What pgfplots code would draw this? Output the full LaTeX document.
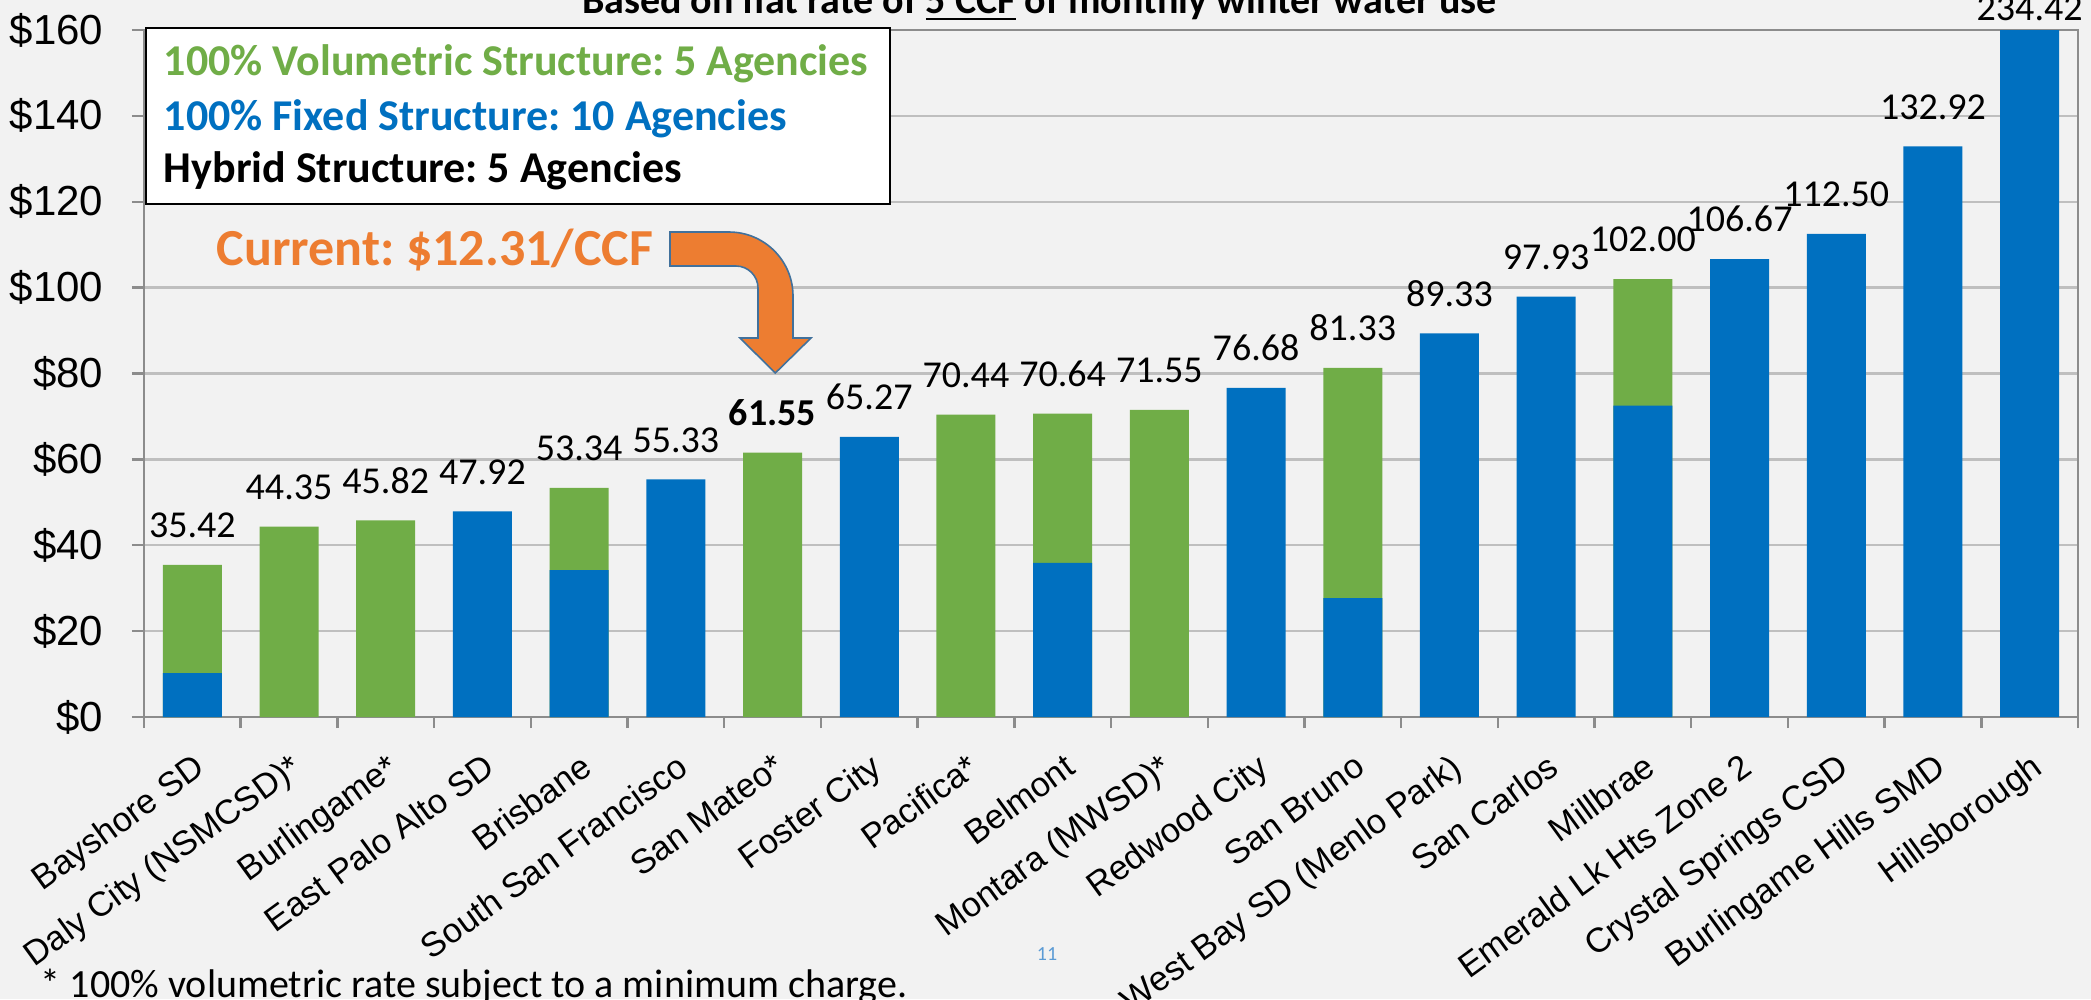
\documentclass[border=0pt]{standalone}
\usepackage{fontspec}
\setmainfont{Carlito}
\newfontfamily\arialf{Liberation Sans}
\usepackage{pgfplots}
\pgfplotsset{compat=1.18}
\definecolor{bgc}{HTML}{F2F2F2}
\definecolor{grn}{HTML}{70AD47}
\definecolor{blu}{HTML}{0070C0}
\definecolor{org}{HTML}{ED7D31}
\definecolor{arrowedge}{HTML}{41719C}
\definecolor{gridc}{HTML}{BFBFBF}
\definecolor{axc}{HTML}{8C8C8C}
\definecolor{pgnum}{HTML}{5B9BD5}
\frenchspacing
\begin{document}
\begin{tikzpicture}
\begin{scope}[x=0.25pt,y=-0.25pt]
\fill[bgc] (0,0) rectangle (2091,999);
\end{scope}
\begin{axis}[
  at={(36pt,-179.25pt)}, anchor=south west,
  scale only axis, width=483.5pt, height=171.75pt,
  ybar, bar width=14.75pt, bar shift=0pt,
  xmin=-0.5, xmax=19.5, ymin=0, ymax=160,
  enlargelimits=false,
  clip mode=individual,
  axis line style={axc, line width=0.6pt},
  xtick={0,...,19},
  xticklabels={Bayshore SD,Daly City (NSMCSD)*,Burlingame*,East Palo Alto SD,Brisbane,South San Francisco,San Mateo*,Foster City,Pacifica*,Belmont,Montara (MWSD)*,Redwood City,San Bruno,West Bay SD (Menlo Park),San Carlos,Millbrae,Emerald Lk Hts Zone 2,Crystal Springs CSD,Burlingame Hills SMD,Hillsborough},
  minor xtick={-0.5,0.5,...,19.5},
  major x tick style={draw=none},
  minor x tick style={axc, line width=0.6pt},
  ytick={0,20,...,160},
  yticklabels={\$0,\$20,\$40,\$60,\$80,\$100,\$120,\$140,\$160},
  major y tick style={axc, line width=0.6pt},
  tick align=outside, xtick pos=bottom, ytick pos=left,
  major tick length=3pt, minor tick length=2.75pt,
  ymajorgrids, major grid style={gridc, line width=0.6pt},
  yticklabel style={font=\arialf\fontsize{10.5}{11}\selectfont, anchor=east, inner sep=0pt, xshift=-7pt},
  xticklabel style={font=\arialf\fontsize{8.6}{9}\selectfont, anchor=north east, inner sep=0pt, yshift=-5.5pt, rotate=36},
]
% total bill of the agencies with a volumetric part (green, drawn full height)
\addplot[fill=grn, draw=none] coordinates {
(0,35.42) (1,44.35) (2,45.82) (4,53.34) (6,61.55) (8,70.44) (9,70.64) (10,71.55) (12,81.33) (15,102.00)};
% fixed part (blue, drawn over the base of each bar)
\addplot[fill=blu, draw=none] coordinates {
(0,10.2) (3,47.92) (4,34.2) (5,55.33) (7,65.27) (9,35.9) (11,76.68) (12,27.7) (13,89.33)
(14,97.93) (15,72.5) (16,106.67) (17,112.50) (18,132.92) (19,234.42)};
% totals as data labels
\addplot[draw=none, fill=none, nodes near coords, point meta=explicit symbolic,
  every node near coord/.append style={font=\fontsize{9.5}{10}\selectfont, text=black, anchor=south, inner sep=0pt, yshift=6.5pt}] coordinates {
(0,35.42) [35.42] (1,44.35) [44.35] (2,45.82) [45.82] (3,47.92) [47.92] (4,53.34) [53.34]
(5,55.33) [55.33] (6,61.55) [\textbf{61.55}] (7,65.27) [65.27] (8,70.44) [70.44] (9,70.64) [70.64]
(10,71.55) [71.55] (11,76.68) [76.68] (12,81.33) [81.33] (13,89.33) [89.33] (14,97.93) [97.93]
(15,102.00) [102.00] (16,106.67) [106.67] (17,112.50) [112.50] (18,132.92) [132.92]};
\node[anchor=base, inner sep=0pt, font=\fontsize{9.5}{10}\selectfont, yshift=2.5pt] at (axis cs:19,160) {234.42};
\end{axis}
\begin{scope}[x=0.25pt,y=-0.25pt]
% legend box
\draw[black, line width=0.5pt, fill=white] (146,28) rectangle (890,204);
\node[anchor=base west, inner sep=0pt, text=grn, font=\bfseries\fontsize{11}{12}\selectfont] at (163,75) {100\% Volumetric Structure: 5 Agencies};
\node[anchor=base west, inner sep=0pt, text=blu, font=\bfseries\fontsize{11}{12}\selectfont] at (163,130) {100\% Fixed Structure: 10 Agencies};
\node[anchor=base west, inner sep=0pt, text=black, font=\bfseries\fontsize{11}{12}\selectfont] at (163,182) {Hybrid Structure: 5 Agencies};
% current label and arrow
\node[anchor=base east, inner sep=0pt, text=org, font=\bfseries\fontsize{13}{15}\selectfont] at (654,265) {Current: \$12.31/CCF};
\filldraw[fill=org, draw=arrowedge, line width=0.4pt]
 (670,232) -- (729,232) .. controls (764.3,232) and (793,260.7) .. (793,296) -- (793,338)
 -- (811,338) -- (775.3,373) -- (740,338) -- (758,338) -- (758,288)
 .. controls (758,275.9) and (748.1,266) .. (736,266) -- (670,266) -- cycle;
% title (partly cut at top)
\node[anchor=base, inner sep=0pt, font=\bfseries\fontsize{10}{11}\selectfont] at (1039.5,13) {Based on flat rate of \underline{5 CCF} of monthly winter water use};
% footnote and page number
\node[anchor=base west, inner sep=0pt, font=\fontsize{10}{11}\selectfont] at (40,997) {* 100\% volumetric rate subject to a minimum charge.};
\node[anchor=base, inner sep=0pt, text=pgnum, font=\fontsize{5}{6}\selectfont] at (1047,960) {11};
\pgfresetboundingbox
\useasboundingbox (0,0) rectangle (2091,999);
\end{scope}
\end{tikzpicture}
\end{document}
